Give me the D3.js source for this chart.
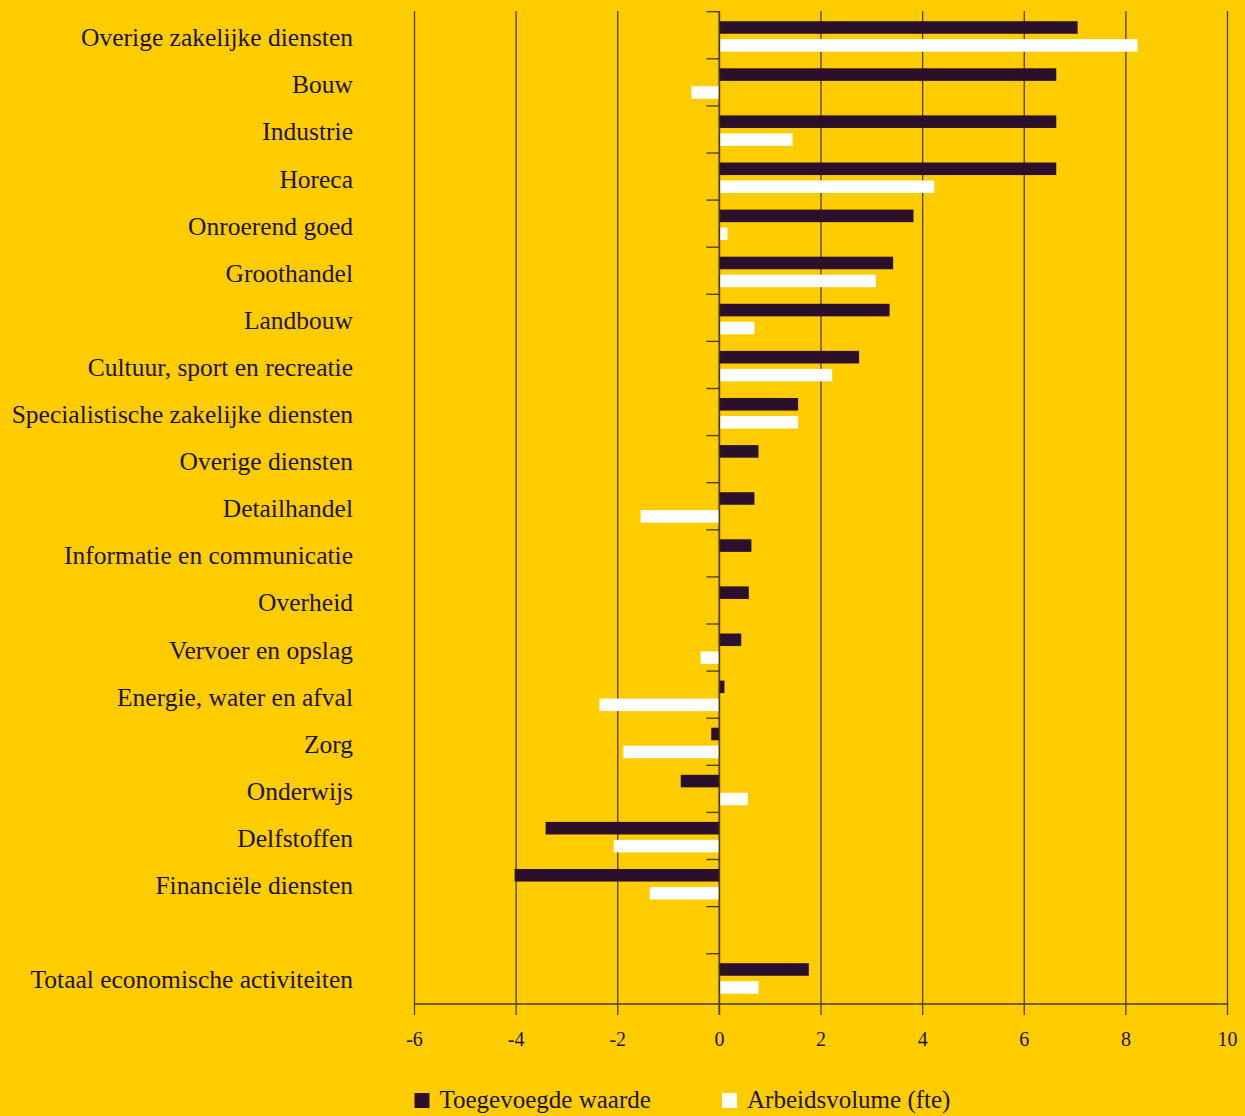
<!DOCTYPE html>
<html>
<head>
<meta charset="utf-8">
<script src="https://cdn.jsdelivr.net/npm/d3@7"></script>
<style>
	html, body { margin: 0; padding: 0; background: #ffcc00; }
	svg { display: block; }
	text { font-family: "Liberation Serif", "DejaVu Serif", serif; fill: #1a1414; }
</style>
</head>
<body>
<svg id="chart" width="1245" height="1116"></svg>
<script>
// sectors, top to bottom; "" is the empty row above the total
var sectors = [
	"Overige zakelijke diensten", "Bouw", "Industrie", "Horeca", "Onroerend goed",
	"Groothandel", "Landbouw", "Cultuur, sport en recreatie",
	"Specialistische zakelijke diensten", "Overige diensten", "Detailhandel",
	"Informatie en communicatie", "Overheid", "Vervoer en opslag",
	"Energie, water en afval", "Zorg", "Onderwijs", "Delfstoffen",
	"Financiële diensten", "", "Totaal economische activiteiten"
];
var toegevoegdeWaarde = [7.05, 6.63, 6.63, 6.63, 3.82, 3.42, 3.35, 2.75, 1.55, 0.77, 0.69,
	0.63, 0.58, 0.43, 0.10, -0.16, -0.76, -3.42, -4.03, null, 1.76];
var arbeidsvolume = [8.23, -0.55, 1.44, 4.23, 0.16, 3.08, 0.69, 2.22, 1.55, 0, -1.55,
	0, 0, -0.37, -2.36, -1.89, 0.56, -2.08, -1.37, null, 0.77];
var xTicks = [-6, -4, -2, 0, 2, 4, 6, 8, 10];
var seriesNames = ["Toegevoegde waarde", "Arbeidsvolume (fte)"];
var seriesColors = ["#2c0f2a", "#ffffff"];

var svg = d3.select("#chart");
var lineColor = "#4a3c00";

var xscale = d3.scaleLinear().domain([-6, 10]).range([414.5, 1227.5]);
var yscale = d3.scaleBand().domain(d3.range(sectors.length)).range([11.7, 1000.8]);
var subscale = d3.scaleBand().domain([0, 1]).range([9.5, 40]).paddingInner(0.3);

// vertical grid lines, they run a little below the axis as ticks
svg.append("g").selectAll("line").data(xTicks)
	.enter().append("line")
		.attr("x1", function(d){ return xscale(d); })
		.attr("x2", function(d){ return xscale(d); })
		.attr("y1", 11)
		.attr("y2", 1015)
		.attr("stroke", lineColor)
		.attr("stroke-width", 1.3);

// bars
var rows = sectors.map(function(s, i){
	return { name: s, i: i, values: [toegevoegdeWaarde[i], arbeidsvolume[i]] };
});

var barGroup = svg.append("g");
rows.forEach(function(row){
	row.values.forEach(function(v, k){
		if (v === null || v === 0) return;
		barGroup.append("rect")
			.attr("x", xscale(Math.min(0, v)))
			.attr("y", yscale(row.i) + subscale(k))
			.attr("width", Math.abs(xscale(v) - xscale(0)))
			.attr("height", subscale.bandwidth())
			.attr("fill", seriesColors[k]);
	});
});

// zero line with small ticks between the rows
svg.append("line")
	.attr("x1", xscale(0)).attr("x2", xscale(0))
	.attr("y1", 11).attr("y2", 1015)
	.attr("stroke", lineColor)
	.attr("stroke-width", 1.6);

svg.append("g").selectAll("line").data(d3.range(sectors.length))
	.enter().append("line")
		.attr("x1", xscale(0) - 13)
		.attr("x2", xscale(0))
		.attr("y1", function(d){ return yscale(d); })
		.attr("y2", function(d){ return yscale(d); })
		.attr("stroke", lineColor)
		.attr("stroke-width", 1.3);

// horizontal axis
svg.append("line")
	.attr("x1", xscale(-6)).attr("x2", xscale(10))
	.attr("y1", 1004).attr("y2", 1004)
	.attr("stroke", lineColor)
	.attr("stroke-width", 1.4);

svg.append("g").selectAll("text").data(xTicks)
	.enter().append("text")
		.attr("x", function(d){ return xscale(d); })
		.attr("y", 1046)
		.attr("text-anchor", "middle")
		.style("font-size", "20px")
		.text(function(d){ return d; });

// sector labels
svg.append("g").selectAll("text").data(rows.filter(function(r){ return r.name !== ""; }))
	.enter().append("text")
		.attr("x", 353)
		.attr("y", function(d){ return yscale(d.i) + 34.5; })
		.attr("text-anchor", "end")
		.style("font-size", "25.5px")
		.text(function(d){ return d.name; });

// legend
var legendX = [414.5, 722];
var legend = svg.append("g").selectAll("g").data(seriesNames)
	.enter().append("g")
		.attr("transform", function(d, i){ return "translate(" + legendX[i] + ",1093)"; });
legend.append("rect")
	.attr("width", 15).attr("height", 15)
	.attr("fill", function(d, i){ return seriesColors[i]; });
legend.append("text")
	.attr("x", 25)
	.attr("y", 15)
	.style("font-size", "25px")
	.text(function(d){ return d; });
</script>
</body>
</html>
